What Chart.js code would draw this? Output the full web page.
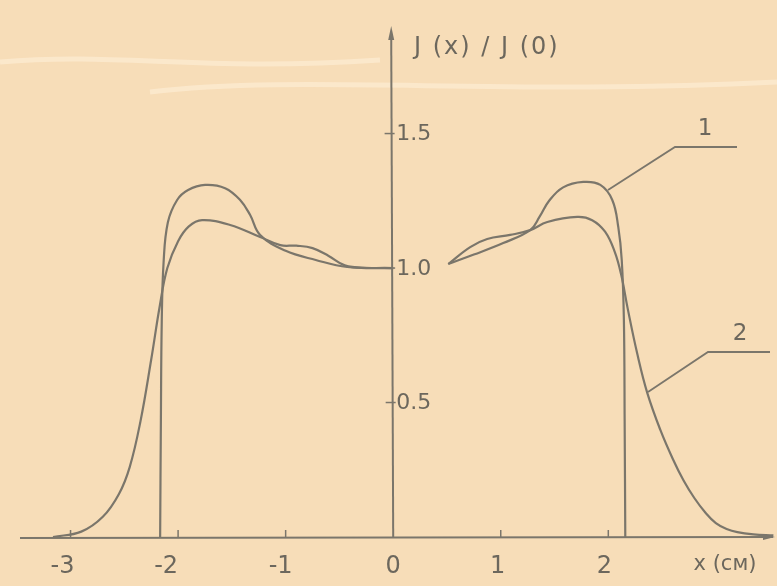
<!DOCTYPE html>
<html>
<head>
<meta charset="utf-8">
<script src="https://cdn.jsdelivr.net/npm/chart.js@4"></script>
<style>
  html, body { margin: 0; padding: 0; background: #f7ddb8; }
  canvas { display: block; }
</style>
</head>
<body>
<canvas id="myChart" width="777" height="586"></canvas>
<script>
// data (x in cm, y = J(x)/J(0))
// curve 1, left and right halves
const curve1X = [-2.167, -2.16, -2.152, -2.135, -2.095, -2.009, -1.907, -1.749, -1.563, -1.423, -1.33, -1.237, -1.005, -0.72, -0.428, 0];
const curve1Y = [0, 0.435, 0.8, 1.02, 1.17, 1.253, 1.29, 1.309, 1.297, 1.253, 1.197, 1.123, 1.065, 1.03, 1.004, 1.0];
const curve1RX = [0.512, 0.75, 1.023, 1.274, 1.36, 1.45, 1.58, 1.767, 1.926, 2.037, 2.093, 2.125, 2.145, 2.152, 2.158];
const curve1RY = [1.015, 1.05, 1.093, 1.141, 1.19, 1.25, 1.3, 1.32, 1.309, 1.253, 1.152, 1.03, 0.807, 0.435, 0];

// curve 2, left and right halves
const curve2X = [-3.163, -2.9, -2.7, -2.55, -2.45, -2.35, -2.25, -2.17, -2.1, -2.0, -1.9, -1.777, -1.516, -1.237, -1.05, -0.9, -0.75, -0.6, -0.45, -0.25, 0];
const curve2Y = [0, 0.02, 0.075, 0.16, 0.26, 0.43, 0.66, 0.86, 1.0, 1.1, 1.155, 1.178, 1.16, 1.115, 1.085, 1.083, 1.074, 1.045, 1.01, 1.0, 1.0];
const curve2RX = [0.512, 0.716, 0.874, 1.088, 1.274, 1.433, 1.712, 1.85, 1.97, 2.06, 2.12, 2.18, 2.27, 2.363, 2.484, 2.6, 2.7, 2.8, 2.9, 3.0, 3.1, 3.2, 3.35, 3.535];
const curve2RY = [1.015, 1.078, 1.108, 1.123, 1.141, 1.171, 1.19, 1.178, 1.135, 1.06, 0.975, 0.85, 0.68, 0.535, 0.398, 0.29, 0.21, 0.145, 0.092, 0.052, 0.03, 0.018, 0.01, 0.006];

const xTicks = [-3, -2, -1, 0, 1, 2];
const yTicks = [0.5, 1.0, 1.5];

const ink = '#7b766b';
const textInk = '#6c675d';

function pts(xs, ys) {
  return xs.map((x, i) => ({ x: x, y: ys[i] }));
}

function lineSet(xs, ys) {
  return {
    data: pts(xs, ys),
    showLine: true,
    borderColor: ink,
    borderWidth: 2.2,
    pointRadius: 0,
    tension: 0.4,
    fill: false
  };
}

// paper, axes, ticks, labels and leader lines
const paperPlugin = {
  id: 'paper',
  beforeDraw(chart) {
    const ctx = chart.ctx;
    ctx.save();
    ctx.fillStyle = '#f7ddb8';
    ctx.fillRect(0, 0, chart.width, chart.height);
    // faint creases in the paper
    ctx.strokeStyle = 'rgba(255,240,218,0.55)';
    ctx.lineWidth = 5;
    ctx.beginPath();
    ctx.moveTo(0, 62); ctx.bezierCurveTo(120, 52, 200, 72, 380, 60);
    ctx.moveTo(150, 92); ctx.bezierCurveTo(300, 74, 500, 96, 777, 82);
    ctx.stroke();
    ctx.restore();
  },
  afterDatasetsDraw(chart) {
    const ctx = chart.ctx;
    const xs = chart.scales.x, ys = chart.scales.y;
    const x0 = xs.getPixelForValue(0);
    const y0 = ys.getPixelForValue(0);
    ctx.save();
    ctx.strokeStyle = ink;
    ctx.fillStyle = ink;
    ctx.lineWidth = 2;
    // x axis with arrow
    ctx.beginPath();
    ctx.moveTo(xs.left, y0 + 1);
    ctx.lineTo(xs.right - 2, y0);
    ctx.stroke();
    ctx.beginPath();
    ctx.moveTo(xs.right, y0);
    ctx.lineTo(xs.right - 12, y0 - 3);
    ctx.lineTo(xs.right - 12, y0 + 3);
    ctx.closePath();
    ctx.fill();
    // y axis with arrow
    ctx.beginPath();
    ctx.moveTo(x0, y0);
    ctx.lineTo(x0 - 2, ys.top + 4);
    ctx.stroke();
    ctx.beginPath();
    ctx.moveTo(x0 - 2, ys.top - 4);
    ctx.lineTo(x0 - 5, ys.top + 10);
    ctx.lineTo(x0 + 1, ys.top + 10);
    ctx.closePath();
    ctx.fill();

    ctx.lineWidth = 1.5;
    // x ticks
    xTicks.forEach(v => {
      if (v === 0) return;
      const px = xs.getPixelForValue(v);
      ctx.beginPath();
      ctx.moveTo(px, y0);
      ctx.lineTo(px, y0 - 7);
      ctx.stroke();
    });
    // y ticks
    yTicks.forEach(v => {
      const py = ys.getPixelForValue(v);
      const ax = x0 - 2 * (py - y0) / (ys.top - y0);
      ctx.beginPath();
      ctx.moveTo(ax - 7, py);
      ctx.lineTo(ax + 3, py);
      ctx.stroke();
    });

    // labels
    ctx.fillStyle = textInk;
    ctx.font = '24px "DejaVu Sans"';
    ctx.textBaseline = 'middle';
    ctx.textAlign = 'center';
    const xLabelOffset = { '-3': -8, '-2': -12, '-1': -5, '0': 0, '1': -3, '2': -4 };
    xTicks.forEach(v => {
      const px = xs.getPixelForValue(v) + xLabelOffset[String(v)];
      ctx.fillText(v < 0 ? '-' + Math.abs(v) : String(v), px, y0 + 30);
    });
    ctx.font = '21px "DejaVu Sans"';
    ctx.fillText('x (см)', 725, y0 + 28);
    ctx.textAlign = 'left';
    ctx.font = '22px "DejaVu Sans"';
    yTicks.forEach(v => {
      const py = ys.getPixelForValue(v);
      ctx.fillText(v.toFixed(1), x0 + 3, py + 1);
    });
    ctx.font = '24px "DejaVu Sans"';
    ctx.letterSpacing = '2px';
    ctx.fillText('J (x) / J (0)', 414, 48);
    ctx.letterSpacing = '0px';

    // leader lines for curves 1 and 2
    ctx.lineWidth = 1.8;
    ctx.strokeStyle = ink;
    ctx.beginPath();
    ctx.moveTo(608, 190); ctx.lineTo(675, 147); ctx.lineTo(737, 147);
    ctx.moveTo(648, 392); ctx.lineTo(708, 352); ctx.lineTo(770, 352);
    ctx.stroke();
    ctx.textAlign = 'center';
    ctx.font = '23px "DejaVu Sans"';
    ctx.fillText('1', 705, 129);
    ctx.fillText('2', 740, 334);
    ctx.restore();
  }
};

const data = {
  datasets: [
    lineSet(curve1X, curve1Y),
    lineSet(curve1RX, curve1RY),
    lineSet(curve2X, curve2Y),
    lineSet(curve2RX, curve2RY)
  ]
};

const config = {
  type: 'scatter',
  data,
  options: {
    responsive: false,
    animation: false,
    layout: { padding: { left: 20, right: 2, top: 30, bottom: 49 } },
    plugins: { legend: { display: false }, tooltip: { enabled: false } },
    scales: {
      x: { type: 'linear', min: -3.47, max: 3.55, display: false },
      y: { type: 'linear', min: 0, max: 1.885, display: false }
    }
  },
  plugins: [paperPlugin]
};

const myChart = new Chart(document.getElementById('myChart'), config);
</script>
</body>
</html>
